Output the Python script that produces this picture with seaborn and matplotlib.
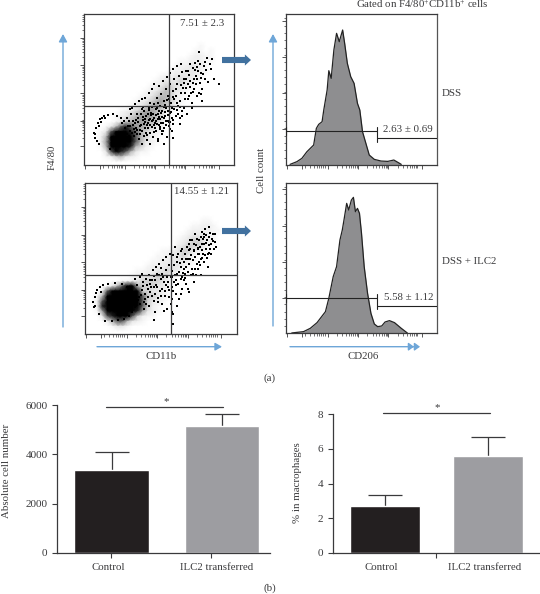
import numpy as np
import pandas as pd
import matplotlib
matplotlib.use("Agg")
import matplotlib.pyplot as plt
from matplotlib.colors import LinearSegmentedColormap
import seaborn as sns

W, H = 540, 594
INK = "#3a3a3c"
BLUE = "#6ea6d8"
DARKBLUE = "#41719f"

sns.set_theme(style="white")
plt.rcParams["font.family"] = ["Liberation Serif", "DejaVu Serif"]
plt.rcParams["mathtext.fontset"] = "custom"
plt.rcParams["mathtext.rm"] = "Liberation Serif"
plt.rcParams["mathtext.default"] = "rm"

# flow plots: density by eye per cell of the picture (top row first, 0 empty, 9 solid)
density_a = """
000000000000000000000000000000
000000000000000000000000000000
000000000000000000000000000000
000000000000000000000000000000
000000000000000000000000000000
000000000000000000000000000000
000000000000000000000001000000
000000000000000000000011010000
000000000000000000000122110000
000000000000000000011222110000
000000000000000000122332100000
000000000000000001223332100000
000000000000000122333321000000
000000000000001233343210000000
000000000000012344332100000000
000000000000123454321000000000
000000000001234554210000000000
000000000012345654310000000000
000000000123456543100000000000
000000012345665421000000000000
000000123456665410000000000000
000000134566655310000000000000
000013578766543200000000000000
000137999875432100000000000000
000259999975421000000000000000
000269999975321000000000000000
000159999854210000000000000000
000037987531100000000000000000
000012453210000000000000000000
000000000000000000000000000000
"""
density_b = """
000000000000000000000000000000
000000000000000000000000000000
000000000000000000000000000000
000000000000000000000000000000
000000000000000000000000000000
000000000000000000000000000000
000000000000000000000000000000
000000000000000000000001100000
000000000000000000000112210000
000000000000000000001222211000
000000000000000000012333210000
000000000000000000123443210000
000000000000000000234443100000
000000000000000112344321000000
000000000000001123343100000000
000000000000011223332100000000
000000000000122233321000000000
000000000011223343200000000000
000000000122334431000000000000
000000011234444321000000000000
000003579954443310000000000000
000179999994433210000000000000
001599999997443210000000000000
002799999997432100000000000000
002899999997421000000000000000
001699999986321000000000000000
000378999742110000000000000000
000025775321000000000000000000
000001331000000000000000000000
000000000000000000000000000000
"""
# flow plots: single dots (0-450 on both relative scales)
halo_a = [(30,95),(35,80),(38,110),(40,70),(42,125),(45,60),(48,135),(55,140),(62,145),
 (72,148),(80,45),(88,150),(100,145),(112,140),(118,60),(122,130),(128,70),(132,115),(135,85),
 (138,100),(140,75),(145,95),(33,90),(46,115),(52,128),(65,138),(105,62),(115,125),(125,110),(130,90)]
cloud_a = [(150,105),(155,125),(160,90),(162,140),(165,75),(168,115),(172,150),(175,100),(178,132),(180,85),(182,160),(185,110),
 (188,145),(190,72),(192,125),(195,170),(198,95),(200,135),(202,155),(205,112),(208,82),(210,182),(212,140),(214,125),(216,165),
 (218,100),(220,198),(222,150),(224,75),(226,118),(228,175),(230,135),(232,210),(234,92),(236,160),(238,125),(240,190),(242,108),
 (244,145),(246,225),(248,170),(250,82),(252,130),(254,205),(256,115),(258,155),(260,240),(262,185),(264,140),(266,100),(268,220),
 (270,165),(148,130),(152,85),(158,110),(164,128),(170,92),(174,165),(180,120),(186,95),(194,150),(200,118),(206,172),(210,98),
 (216,148),(220,120),(224,185),(228,105),(232,155),(236,100),(240,138),(244,178),(248,118),(252,160),(256,195),(260,128),(264,170),
 (268,120),(272,195),(276,145),(280,240),(284,175),(288,120),(292,215),(296,160),(300,255),(304,195),(308,230),(312,280),(316,205),
 (320,250),(324,185),(328,290),(332,225),(336,265),(340,205),(344,310),(348,245),(352,275),(356,225),(360,295),(364,255),(370,320),
 (378,300),(385,315),(392,255),(345,337),(272,255),(278,205),(282,150),(286,265),(290,190),(294,145),(298,230),(302,170),(306,280),
 (310,150),(314,240),(318,300),(322,215),(326,170),(330,255),(334,305),(338,240),(342,280),(346,215),(350,300),(354,190),(358,270),
 (135,130),(140,115),(142,150),(130,140),(138,165),(146,170),(155,180),(165,190),(175,195),(185,200),(195,215),(205,225),(212,240),
 (225,235),(238,250),(250,262),(258,275),(268,285),(280,295),(292,300),(175,62),(200,60),(222,70),(240,60),(268,78),(290,140),(405,240),
 (192,108),(204,130),(214,108),(226,160),(236,142),(246,130),(258,105),(222,135),(208,150),(196,132),(184,128),(172,118),(160,150),
 (153,97),(177,143),(191,88),(203,147),(217,131),(229,113),(241,172),(253,147),(267,133),(279,183),(291,237),(303,213),(317,268),
 (329,243),(341,293),(353,258),(367,283),(373,247),(383,285),(157,133),(169,103),(183,137),(197,163),(211,119),(227,143),(239,101),
 (251,193),(263,157),(277,227),(289,171),(301,243),(313,197),(327,217),(339,255),(351,211),(365,307),(149,117),(161,102),(179,172),
 (189,118),(199,183),(209,134),(219,169),(233,124),(243,156),(255,128),(269,203),(281,162),(295,278),(307,255),(319,232),(333,282)]
halo_b = [(25,95),(28,80),(30,110),(34,122),(38,132),(45,140),(55,146),(70,150),(80,38),
 (90,152),(110,148),(125,140),(132,55),(136,130),(142,65),(145,118),(150,80),(148,105),(155,95),(32,85),
 (62,40),(100,42),(118,46),(138,92),(135,108),(130,120),(48,124),(44,60),(128,68),(135,78)]
cloud_b = [(160,110),(165,90),(170,130),(175,75),(180,105),(185,145),(190,85),(195,125),(200,160),(205,100),(210,65),(215,140),(220,175),
 (225,115),(230,90),(235,155),(240,190),(245,75),(250,130),(255,170),(260,105),(265,205),(270,145),(275,85),(280,185),(285,120),(290,225),
 (295,160),(300,200),(305,135),(310,250),(315,175),(320,220),(325,155),(330,265),(335,195),(340,240),(345,175),(350,285),(355,215),
 (360,255),(365,200),(370,290),(375,240),(380,300),(385,275),(172,155),(182,165),(192,175),(202,190),(212,200),(222,210),(232,222),
 (242,230),(252,240),(262,235),(152,125),(155,145),(163,170),(178,120),(188,110),(198,140),(208,120),(218,95),(228,135),(238,115),
 (248,155),(258,140),(268,175),(278,150),(288,135),(298,180),(308,210),(318,195),(328,230),(338,215),(348,250),(358,235),(368,265),
 (378,285),(268,260),(278,240),(288,255),(298,240),(308,270),(318,280),(328,300),(338,280),(348,305),(358,315),(368,320),(275,215),
 (285,200),(295,215),(305,185),(315,235),(325,250),(335,255),(345,225),(355,270),(365,240),(375,270),(385,300),(390,260),(150,165),
 (170,180),(210,160),(235,70),(255,90),(262,60),(250,110),(225,165),(240,145),(260,170),(270,120),(280,105),(290,170),(300,150),(310,125),
 (322,180),(332,210),(342,260),(352,240),(362,280),(372,255),(300,225),(312,255),(324,270),(336,240),(348,270),(360,295),(330,175),(245,170),
 (215,180),(195,150),(205,140),(230,180),(275,180),(265,155),(285,165),(295,195),(305,225),(355,300),(345,290),(258,65),(262,30),(205,42),
 (167,117),(177,97),(187,133),(199,113),(211,147),(223,129),(233,169),(247,141),(259,187),(271,161),(283,211),(293,183),(303,261),(313,223),
 (327,193),(337,257),(349,227),(361,273),(369,243),(381,277),(157,103),(173,143),(183,91),(193,161),(207,173),(217,107),(227,197),(237,127),
 (249,205),(263,129),(273,231),(287,249),(299,167),(311,281),(323,247),(333,283),(343,205),(353,291),(363,227),(373,303),(383,253)]

# histograms: outline
hist_a_x = [13,33,48,63,83,91,98,108,113,123,128,135,143,151,159,169,175,183,193,203,213,220,228,238,248,263,283,303,321,333,343]
hist_a_y = [1,9,19,39,59,109,121,129,164,224,282,259,344,394,369,404,364,304,264,244,184,164,99,64,29,16,11,10,14,7,1]
hist_b_x = [18,53,73,93,118,128,141,151,161,168,173,181,187,195,201,207,213,219,225,233,243,253,263,273,285,295,308,323,343,361]
hist_b_y = [1,5,15,32,65,105,170,200,280,310,340,390,370,400,408,365,375,360,300,200,120,60,28,20,22,34,38,32,15,1]

# bar charts
groups = ["Control", "ILC2 transferred"]
cells_mean = [3360, 5160]
cells_err = [720, 475]
macro_pct = [2.71, 5.6]
macro_err = [0.64, 1.07]
cells_ticks = [0, 2000, 4000, 6000]
macro_ticks = [0, 2, 4, 6, 8]

fig = plt.figure(figsize=(W / 100, H / 100), dpi=100, facecolor="white")
GRAYS = LinearSegmentedColormap.from_list(
    "flow", [(0, "#ffffff"), (0.33, "#e8e8e8"), (0.66, "#a4a4a4"), (0.85, "#303030"), (1, "#000000")])


def box(x0, y0, x1, y1):
    return fig.add_axes([x0 / W, 1 - y1 / H, (x1 - x0) / W, (y1 - y0) / H])


def log_ticks(starts, span):
    out = []
    for s in starts:
        out += [s + span * np.log10(k) for k in range(2, 10)]
    return out


def frame(ax, xm, xn, ym, yn, right_color=INK):
    ax.set_xlim(0, 450)
    ax.set_ylim(0, 452)
    ax.set_xticks(xm)
    ax.set_xticks(xn, minor=True)
    ax.set_yticks(ym)
    ax.set_yticks(yn, minor=True)
    ax.tick_params(axis="both", which="major", length=3.2, width=0.6, color=INK, direction="out",
                   labelbottom=False, labelleft=False, bottom=True, left=True, pad=1)
    ax.tick_params(axis="both", which="minor", length=1.8, width=0.5, color=INK, direction="out", bottom=True, left=True)
    for s in ax.spines.values():
        s.set_color(INK)
        s.set_linewidth(0.9)
    ax.spines["right"].set_color(right_color)


flow_xm = [5, 48, 125, 215, 305, 405]
flow_xn = [s for s in log_ticks([30], 90) if s < 122] + log_ticks([125, 215, 305], 90)
flow_xn = [v for v in flow_xn if v < 450]
flow_ym = [54, 130, 214, 297, 379]
flow_yn = [v for v in log_ticks([54, 130, 214, 297, 379], 82) if v < 450]
hist_ym = [107, 215, 322, 432]
hist_yn = [v for v in range(21, 452, 22)]


def dots(bx, density, halo, cloud):
    under = box(*bx)
    grid = np.array([[int(c) for c in row] for row in density.split()], dtype=float)
    sns.heatmap(grid, ax=under, cmap=GRAYS, vmin=0, vmax=9, cbar=False, xticklabels=False, yticklabels=False,
                shading="gouraud", rasterized=True)
    under.set_xlim(-0.5, grid.shape[1] - 0.5)
    under.set_ylim(grid.shape[0] - 0.5, -0.5)
    under.axis("off")
    ax = box(*bx)
    ax.patch.set_alpha(0)
    p = np.array(halo + cloud)
    sns.scatterplot(x=p[:, 0], y=p[:, 1], ax=ax, s=0.7, color="black", linewidth=0, marker="s", legend=False, zorder=2)
    return ax


for (bx, density, halo, cloud, gv, gh) in [
    ((83.5, 13.5, 233.5, 164.5), density_a, halo_a, cloud_a, 255, 175),
    ((84.5, 182.7, 236.5, 334), density_b, halo_b, cloud_b, 255, 176),
]:
    ax = dots(bx, density, halo, cloud)
    frame(ax, flow_xm, flow_xn, flow_ym, flow_yn)
    ax.axvline(gv, color=INK, lw=0.9, zorder=3)
    ax.axhline(gh, color=INK, lw=0.9, zorder=3)

for (bx, hx, hy, gy, gy2) in [
    ((285.7, 14, 437.3, 164.7), hist_a_x, hist_a_y, 102, 79),
    ((285.7, 182.7, 437.3, 333.3), hist_b_x, hist_b_y, 105, 82),
]:
    ax = box(*bx)
    ax.fill_between(hx, hy, 0, color="#8e8e90", lw=0, zorder=1)
    sns.lineplot(x=hx, y=hy, ax=ax, sort=False, estimator=None, color="#222222", lw=0.9, zorder=2, legend=False)
    frame(ax, flow_xm, flow_xn, hist_ym, hist_yn, right_color="#555555")
    ax.plot([0, 271], [gy, gy], color="#222222", lw=0.8, zorder=3)
    ax.plot([2, 2], [gy - 12, gy + 12], color="#222222", lw=0.8, zorder=3)
    ax.plot([271, 271], [gy2 - 10, gy + 12], color="#222222", lw=0.8, zorder=3)
    ax.plot([271, 450], [gy2, gy2], color="#222222", lw=0.8, zorder=3)


def bars(bx, values, errs, ticks, ylim, xlim):
    ax = box(*bx)
    data = pd.DataFrame({"group": groups, "value": values})
    sns.barplot(data=data, x="group", y="value", hue="group", ax=ax, order=groups, hue_order=groups,
                palette=["#231f20", "#9d9da1"], width=0.675, saturation=1, legend=False, zorder=2)
    _, caps, _ = ax.errorbar([0, 1], values, yerr=[[0, 0], errs], fmt="none", ecolor=INK, elinewidth=0.9,
                             capsize=12.5, capthick=0.9, zorder=1)
    caps[0].set_visible(False)
    ax.set_xlim(*xlim)
    ax.set_ylim(*ylim)
    ax.set_yticks(ticks)
    ax.set_xlabel("")
    ax.set_ylabel("")
    sns.despine(ax=ax)
    for s in ["left", "bottom"]:
        ax.spines[s].set_color(INK)
        ax.spines[s].set_linewidth(0.9)
    ax.tick_params(axis="y", length=3.6, width=0.8, color=INK, left=True, labelsize=8.0, labelcolor=INK, pad=3)
    ax.tick_params(axis="x", length=3.6, width=0.8, color=INK, bottom=True, labelbottom=False)
    ax.patch.set_alpha(0)
    return ax


ax1 = bars((56.7, 405.3, 270, 552.7), cells_mean, cells_err, cells_ticks, (0, 6000), (-0.4986, 1.435))
ax1.set_xticks([-0.005, 0.9])
ax2 = bars((332.7, 414.3, 540, 553), macro_pct, macro_err, macro_ticks, (0, 8), (-0.505, 1.505))
ax2.set_xticks([0.5])

# page-level annotation layer in pixel units
top = fig.add_axes([0, 0, 1, 1], zorder=10)
top.set_xlim(0, W)
top.set_ylim(H, 0)
top.axis("off")
top.patch.set_alpha(0)


def arrow(x0, y0, x1, y1, color=BLUE, lw=1.0, hw=2.5, hl=4.6):
    top.annotate("", xy=(x1, y1), xytext=(x0, y0),
                 arrowprops=dict(arrowstyle=f"-|>,head_width={hw/7.2:.2f},head_length={hl/7.2:.2f}", color=color,
                                 lw=lw, shrinkA=0, shrinkB=0, mutation_scale=7.2))


arrow(63, 327, 63, 34)
arrow(273, 326, 273, 34)
arrow(97, 346.7, 222, 346.7, hw=2.3, hl=4)
arrow(290, 346.7, 414, 346.7, hw=2.3, hl=3.2)
arrow(410, 346.7, 420, 346.7, hw=2.3, hl=3.2)
for y in (60, 231):
    top.annotate("", xy=(251, y), xytext=(222, y),
                 arrowprops=dict(arrowstyle="simple,head_width=1.0,head_length=0.55,tail_width=0.55",
                                 color=DARKBLUE, lw=0, shrinkA=0, shrinkB=0, mutation_scale=8))

# significance bars
top.plot([106, 222.7], [406.8, 406.8], color=INK, lw=0.9)
top.plot([383.3, 490], [412.8, 412.8], color=INK, lw=0.9)

FS = 7.8
texts = [
    (52, 157, "F4/80", "center", 90),
    (262, 170, "Cell count", "center", 90),
    (160.7, 356.7, "CD11b", "center", 0),
    (362.7, 356.7, "CD206", "center", 0),
    (422.7, 4.5, r"Gated on F4/80$^{+}$CD11b$^{+}$ cells", "center", 0),
    (441.7, 93, "DSS", "left", 0),
    (441.7, 262, "DSS + ILC2", "left", 0),
    (180, 24, "7.51 ± 2.3", "left", 0),
    (174, 191.7, "14.55 ± 1.21", "left", 0),
    (382.7, 129.5, "2.63 ± 0.69", "left", 0),
    (383.7, 297.5, "5.58 ± 1.12", "left", 0),
    (270, 378, "(a)", "center", 0),
    (270, 588, "(b)", "center", 0),
    (108, 567, "Control", "center", 0),
    (216.7, 567, "ILC2 transferred", "center", 0),
    (381, 567, "Control", "center", 0),
    (485, 567, "ILC2 transferred", "center", 0),
    (7, 471, "Absolute cell number", "center", 90),
    (298, 482.7, "% in macrophages", "center", 90),
    (166, 402, "*", "center", 0),
    (437, 408, "*", "center", 0),
]
for x, y, s, ha, rot in texts:
    top.text(x, y, s, ha=ha, va="center", rotation=rot, fontsize=FS, color=INK)

fig.savefig("out.png", dpi=100, facecolor="white")
